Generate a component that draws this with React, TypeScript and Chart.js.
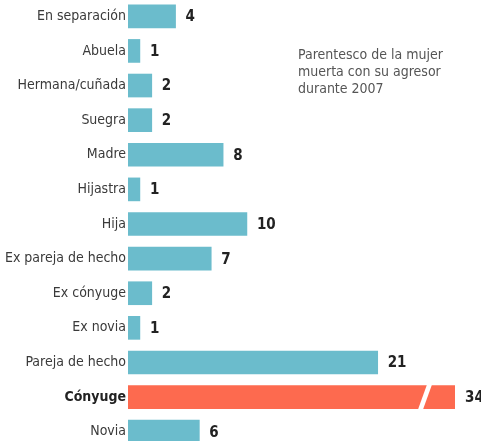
import React, { useEffect, useRef } from 'react';
import { Chart, registerables } from 'chart.js';

Chart.register(...registerables);

const categories = [
  'En separación',
  'Abuela',
  'Hermana/cuñada',
  'Suegra',
  'Madre',
  'Hijastra',
  'Hija',
  'Ex pareja de hecho',
  'Ex cónyuge',
  'Ex novia',
  'Pareja de hecho',
  'Cónyuge',
  'Novia',
];
const values = [4, 1, 2, 2, 8, 1, 10, 7, 2, 1, 21, 34, 6];
const highlightCategory = 'Cónyuge';
const axisMax = 27.5;
const titleLines = ['Parentesco de la mujer', 'muerta con su agresor', 'durante 2007'];

const FONT = '"Liberation Sans Narrow", "DejaVu Sans Condensed", "Liberation Sans", sans-serif';
const TEAL = '#6bbccc';
const RED = '#fd6a4f';
const TEXT = '#3a3a3a';

const overlayPlugin = {
  id: 'overlay',
  afterDatasetsDraw(chart: any) {
    const ctx = chart.ctx;
    const area = chart.chartArea;
    const meta = chart.getDatasetMeta(0);
    ctx.save();
    meta.data.forEach((bar: any, i: number) => {
      const endX = Math.min(bar.x, area.right);
      if (bar.x > area.right) {
        const top = bar.y - bar.height / 2 - 1;
        const bot = bar.y + bar.height / 2 + 1;
        ctx.fillStyle = '#ffffff';
        ctx.beginPath();
        ctx.moveTo(area.right - 28, top);
        ctx.lineTo(area.right - 23, top);
        ctx.lineTo(area.right - 32, bot);
        ctx.lineTo(area.right - 37, bot);
        ctx.closePath();
        ctx.fill();
      }
      ctx.fillStyle = '#222222';
      ctx.font = 'bold 15px ' + FONT;
      ctx.textAlign = 'left';
      ctx.textBaseline = 'middle';
      ctx.fillText(String(values[i]), endX + 10, bar.y + 1);
    });
    ctx.restore();
  },
  afterDraw(chart: any) {
    const ctx = chart.ctx;
    ctx.save();
    ctx.fillStyle = '#555555';
    ctx.font = '14px ' + FONT;
    ctx.textAlign = 'left';
    ctx.textBaseline = 'alphabetic';
    titleLines.forEach((line, i) => {
      ctx.fillText(line, 298, 60 + i * 17);
    });
    ctx.restore();
  },
};

export default function App() {
  const ref = useRef<HTMLCanvasElement>(null);

  useEffect(() => {
    if (!ref.current) return;
    const chart = new Chart(ref.current, {
      type: 'bar',
      data: {
        labels: categories,
        datasets: [
          {
            data: values,
            backgroundColor: categories.map((c) => (c === highlightCategory ? RED : TEAL)),
            barThickness: 23,
            borderWidth: 0,
          },
        ],
      },
      options: {
        indexAxis: 'y',
        animation: false,
        responsive: false,
        layout: { padding: { left: 0, right: 26, top: 0, bottom: 0 } },
        plugins: {
          legend: { display: false },
          tooltip: { enabled: false },
        },
        scales: {
          x: {
            display: false,
            min: 0,
            max: axisMax,
          },
          y: {
            grid: { display: false, drawTicks: false },
            border: { display: false },
            afterFit: (scale: any) => {
              scale.width = 128;
              scale.paddingTop = 0;
              scale.paddingBottom = 0;
            },
            ticks: {
              padding: 2,
              color: (c: any) => (categories[c.index] === highlightCategory ? '#222222' : TEXT),
              font: (c: any) => ({
                family: FONT,
                size: 14,
                weight: categories[c.index] === highlightCategory ? 'bold' : 'normal',
              }),
            },
          },
        },
      },
      plugins: [overlayPlugin],
    });
    return () => chart.destroy();
  }, []);

  return (
    <div
      style={{
        position: 'fixed',
        left: 0,
        top: 0,
        width: 481,
        height: 441,
        overflow: 'hidden',
        background: '#ffffff',
      }}
    >
      <canvas
        ref={ref}
        width={481}
        height={450}
        style={{ position: 'absolute', left: 0, top: -1, width: 481, height: 450 }}
      />
    </div>
  );
}
